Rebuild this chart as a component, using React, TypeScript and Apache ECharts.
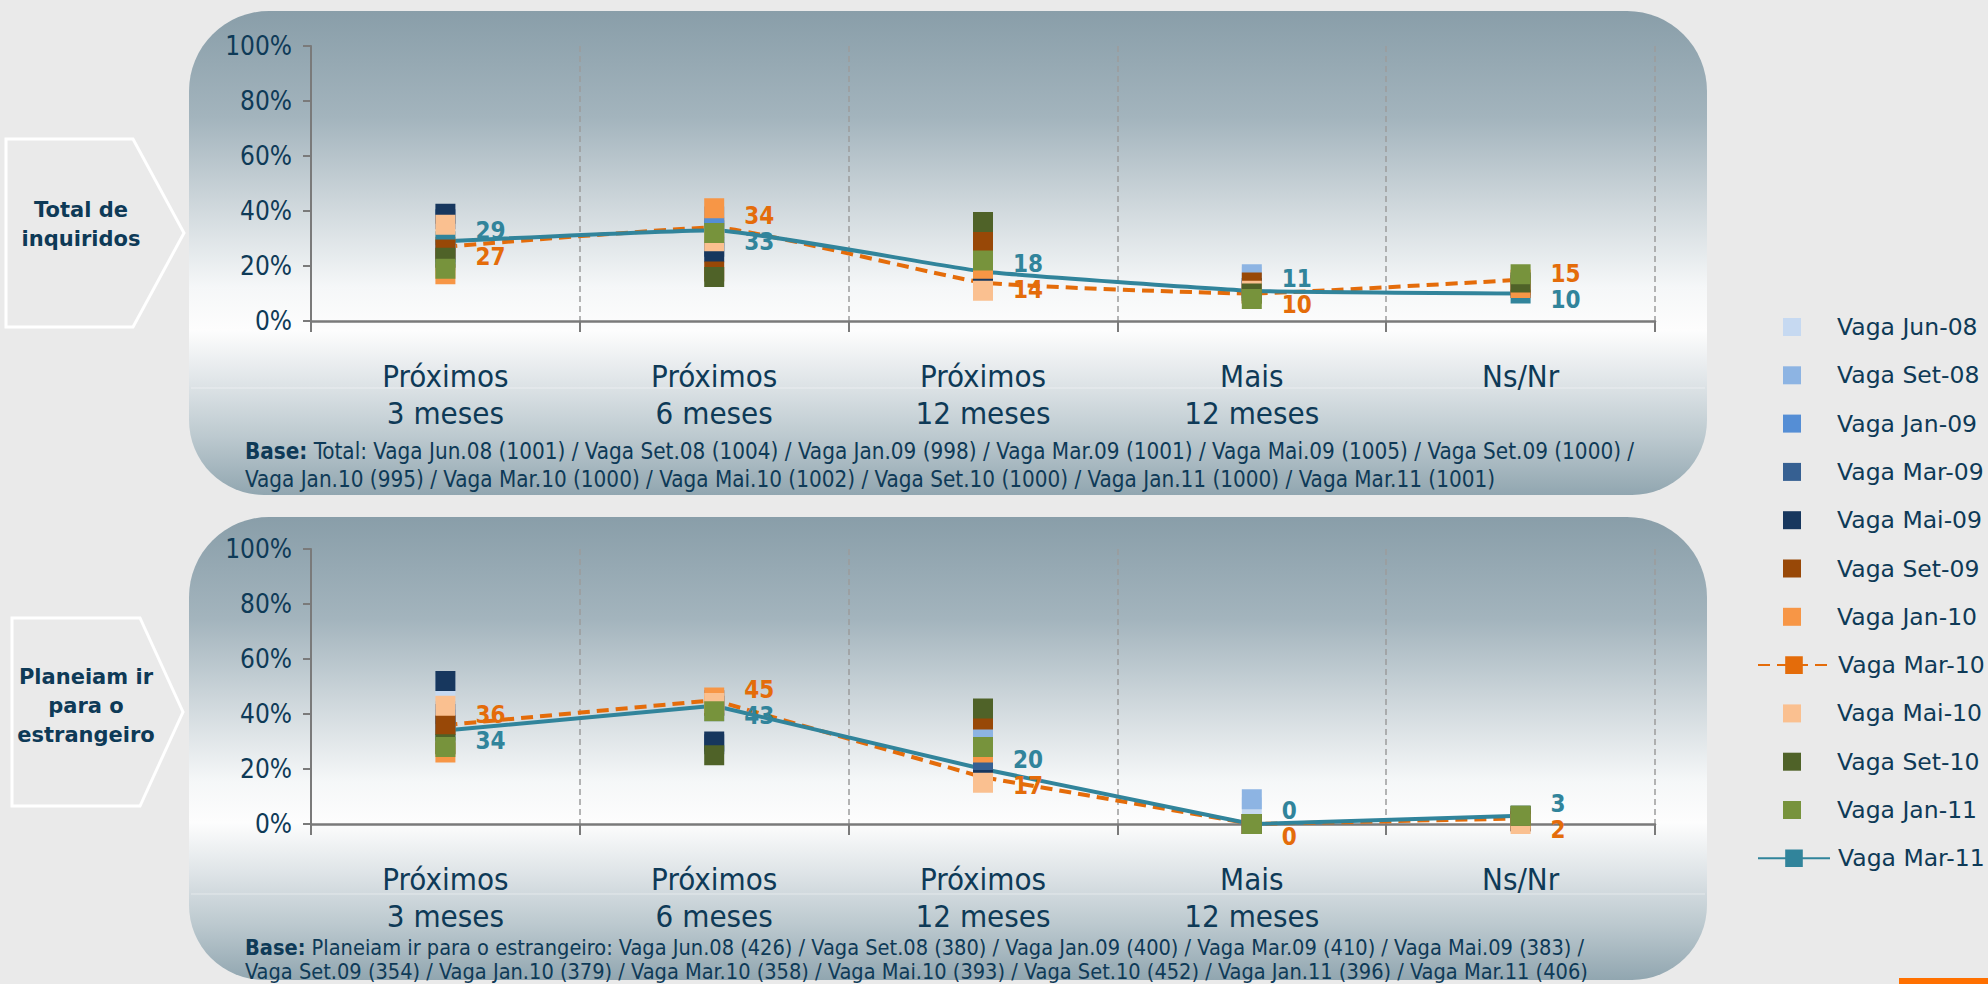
import React, { useEffect, useRef } from 'react';
import * as echarts from 'echarts';

// ---------- data ----------
const categories = ['Próximos\n3 meses', 'Próximos\n6 meses', 'Próximos\n12 meses', 'Mais\n12 meses', 'Ns/Nr'];

const waveNames = [
  'Vaga Jun-08', 'Vaga Set-08', 'Vaga Jan-09', 'Vaga Mar-09', 'Vaga Mai-09', 'Vaga Set-09',
  'Vaga Jan-10', 'Vaga Mar-10', 'Vaga Mai-10', 'Vaga Set-10', 'Vaga Jan-11', 'Vaga Mar-11',
];
const waveColors = [
  '#C6D9F1', '#8DB4E3', '#558ED5', '#366092', '#17375E', '#984807',
  '#F79646', '#E46C0A', '#FAC090', '#4F6228', '#77933C', '#31849B',
];
const lineWaves = ['Vaga Mar-10', 'Vaga Mar-11'];

// Total de inquiridos (%)
const totalJun08 = [24, 30, 25, 16, 12];
const totalSet08 = [22, 31, 27, 17, 13];
const totalJan09 = [25, 38, 24, 12, 14];
const totalMar09 = [37, 27, 23, 12, 13];
const totalMai09 = [39, 25, 15, 11, 12];
const totalSet09 = [26, 18, 29, 14, 13];
const totalJan10 = [17, 41, 19, 10, 12];
const totalMar10 = [27, 34, 14, 10, 15];
const totalMai10 = [35, 29, 11, 11, 15];
const totalSet10 = [23, 16, 36, 10, 14];
const totalJan11 = [19, 32, 22, 8, 17];
const totalMar11 = [29, 33, 18, 11, 10];

// Planeiam ir para o estrangeiro (%)
const planJun08 = [50, 44, 40, 6, 1];
const planSet08 = [41, 41, 35, 9, 2];
const planJan09 = [38, 45, 27, 0, 1];
const planMar09 = [40, 29, 20, 0, 2];
const planMai09 = [52, 30, 16, 0, 1];
const planSet09 = [36, 43, 38, 0, 1];
const planJan10 = [26, 46, 26, 0, 2];
const planMar10 = [36, 45, 17, 0, 2];
const planMai10 = [43, 44, 15, 0, 0];
const planSet10 = [29, 25, 42, 0, 3];
const planJan11 = [28, 41, 28, 0, 3];
const planMar11 = [34, 43, 20, 0, 3];

const totalValues = [totalJun08, totalSet08, totalJan09, totalMar09, totalMai09, totalSet09, totalJan10, totalMar10, totalMai10, totalSet10, totalJan11, totalMar11];
const planValues = [planJun08, planSet08, planJan09, planMar09, planMai09, planSet09, planJan10, planMar10, planMai10, planSet10, planJan11, planMar11];

const panelTitles = ['Total de\ninquiridos', 'Planeiam ir\npara o\nestrangeiro'];
const baseNotes = [
  [
    'Total: Vaga Jun.08 (1001) / Vaga Set.08 (1004) / Vaga Jan.09 (998) / Vaga Mar.09 (1001) / Vaga Mai.09 (1005) / Vaga Set.09 (1000) /',
    'Vaga Jan.10 (995) / Vaga Mar.10 (1000) / Vaga Mai.10 (1002) / Vaga Set.10 (1000) / Vaga Jan.11 (1000) / Vaga Mar.11 (1001)',
  ],
  [
    'Planeiam ir para o estrangeiro: Vaga Jun.08 (426) / Vaga Set.08 (380) / Vaga Jan.09 (400) / Vaga Mar.09 (410) / Vaga Mai.09 (383) /',
    'Vaga Set.09 (354) / Vaga Jan.10 (379) / Vaga Mar.10 (358) / Vaga Mai.10 (393) / Vaga Set.10 (452) / Vaga Jan.11 (396) / Vaga Mar.11 (406)',
  ],
];

// ---------- layout / style ----------
const W = 1988;
const H = 984;
const TEXT = '#0E3A57';
const COND = '"DejaVu Sans Condensed", "DejaVu Sans", sans-serif';
const SANS = '"DejaVu Sans", Verdana, sans-serif';
const GRID_LEFT = 311;
const GRID_W = 1344;
const GRID_H = 275;
const GRID_TOPS = [46, 549];
const PANELS = [
  { y: 11, h: 484 },
  { y: 517, h: 463 },
];
const PANEL_X = 189;
const PANEL_W = 1518;
const BASE_LAYOUT = [
  { y: 437, lineHeight: 28, fontSize: 22.3 },
  { y: 935, lineHeight: 24, fontSize: 21.6 },
];

function buildOption() {
  const k = GRID_H / 100;

  const grid = GRID_TOPS.map((t) => ({ left: GRID_LEFT, top: t, width: GRID_W, height: GRID_H }));

  const xAxis = GRID_TOPS.map((_, g) => ({
    type: 'category',
    gridIndex: g,
    data: categories,
    boundaryGap: true,
    axisLine: { show: true, lineStyle: { color: '#7A7A7A', width: 2.5 } },
    axisTick: { show: true, length: 11, interval: 0, lineStyle: { color: '#7A7A7A', width: 2 } },
    axisLabel: {
      interval: 0,
      margin: 36,
      color: TEXT,
      fontFamily: COND,
      fontSize: 31,
      lineHeight: 37,
    },
    splitLine: { show: true, interval: 0, lineStyle: { color: '#9C9C9C', width: 1.5, type: [6, 4] } },
  }));

  const yAxis = GRID_TOPS.map((_, g) => ({
    type: 'value',
    gridIndex: g,
    min: 0,
    max: 100,
    interval: 20,
    axisLine: { show: true, lineStyle: { color: '#7A7A7A', width: 2 } },
    axisTick: { show: true, length: 8, lineStyle: { color: '#7A7A7A', width: 2 } },
    axisLabel: { formatter: '{value}%', margin: 19, color: TEXT, fontFamily: COND, fontSize: 26 },
    splitLine: { show: false },
  }));

  const series: any[] = [];
  [totalValues, planValues].forEach((values, g) => {
    waveNames.forEach((name, i) => {
      const color = waveColors[i];
      if (!lineWaves.includes(name)) {
        series.push({
          type: 'scatter',
          name,
          xAxisIndex: g,
          yAxisIndex: g,
          data: values[i],
          symbol: 'rect',
          symbolSize: 20,
          itemStyle: { color, opacity: 1 },
          clip: false,
          z: 3,
        });
        return;
      }
      const isMar11 = name === 'Vaga Mar-11';
      const other = values[waveNames.indexOf(isMar11 ? 'Vaga Mar-10' : 'Vaga Mar-11')];
      const data = values[i].map((v, j) => {
        const o = other[j];
        const mean = (v + o) / 2;
        const upper = isMar11 ? v >= o : v > o;
        const dy = (v - mean) * k + (upper ? -13 : 13);
        return { value: v, label: { offset: [0, dy] } };
      });
      series.push({
        type: 'line',
        name,
        xAxisIndex: g,
        yAxisIndex: g,
        data,
        symbol: 'rect',
        symbolSize: 20,
        showSymbol: true,
        smooth: g === 0 ? 0.12 : false,
        clip: false,
        lineStyle: { color, width: 4, type: isMar11 ? 'solid' : [12, 7] },
        itemStyle: { color },
        label: {
          show: true,
          position: 'right',
          distance: 20,
          color,
          fontFamily: COND,
          fontWeight: 'bold',
          fontSize: 24,
        },
        z: 2,
      });
    });
  });

  const legend = waveNames.map((name, i) => {
    const cy = 327 + i * 48.3;
    const isLine = lineWaves.includes(name);
    return {
      data: [name],
      orient: 'vertical',
      left: isLine ? 1757 : 1783,
      top: cy - 12,
      padding: 0,
      itemWidth: isLine ? 72 : 18,
      itemHeight: isLine ? 22 : 18,
      icon: isLine ? undefined : 'rect',
      textStyle: {
        color: TEXT,
        fontFamily: SANS,
        fontSize: 23.5,
        lineHeight: 24,
        padding: [0, 0, 0, isLine ? 3 : 31],
      },
    };
  });

  const graphic: any[] = [];
  PANELS.forEach((p, g) => {
    graphic.push({
      type: 'rect',
      z: -10,
      shape: { x: PANEL_X, y: p.y, width: PANEL_W, height: p.h, r: [80, 80, 75, 75] },
      style: {
        fill: new echarts.graphic.LinearGradient(0, 0, 0, 1, [
          { offset: 0, color: '#899EA9' },
          { offset: 0.22, color: '#A3B4BD' },
          { offset: 0.42, color: '#D3DBDF' },
          { offset: 0.57, color: '#F5F7F8' },
          { offset: 0.66, color: '#FDFDFD' },
          { offset: 0.76, color: '#E1E6E9' },
          { offset: 0.88, color: '#BCC9CF' },
          { offset: 1, color: '#91A6B0' },
        ]),
      },
    });
    graphic.push({
      type: 'line',
      z: -9,
      shape: { x1: PANEL_X + 2, y1: p.y + 377, x2: PANEL_X + PANEL_W - 2, y2: p.y + 377 },
      style: { stroke: '#FFFFFF', lineWidth: 1.5, opacity: 0.3 },
    });
    // base note
    const bl = BASE_LAYOUT[g];
    graphic.push({
      type: 'text',
      x: 245,
      y: bl.y,
      style: {
        text: '{b|Base:} ' + baseNotes[g][0] + '\n' + baseNotes[g][1],
        fill: TEXT,
        fontFamily: COND,
        fontSize: bl.fontSize,
        lineHeight: bl.lineHeight,
        textVerticalAlign: 'top',
        rich: {
          b: { fontWeight: 'bold', fontFamily: COND, fontSize: bl.fontSize, lineHeight: bl.lineHeight, fill: TEXT },
        },
      },
    });
  });

  // left arrow boxes
  const boxes = [
    { x0: 6, x1: 133, tip: 184, y0: 139, y1: 327, tx: 81, ty: 224 },
    { x0: 12, x1: 140, tip: 183, y0: 618, y1: 806, tx: 86, ty: 706 },
  ];
  boxes.forEach((b, g) => {
    const mid = (b.y0 + b.y1) / 2;
    graphic.push({
      type: 'polygon',
      shape: { points: [[b.x0, b.y0], [b.x1, b.y0], [b.tip, mid], [b.x1, b.y1], [b.x0, b.y1]] },
      style: { fill: '#EAEAEA', stroke: '#FFFFFF', lineWidth: 3 },
    });
    graphic.push({
      type: 'text',
      x: b.tx,
      y: b.ty,
      style: {
        text: panelTitles[g],
        fill: TEXT,
        fontFamily: SANS,
        fontWeight: 'bold',
        fontSize: 21,
        lineHeight: 29,
        textAlign: 'center',
        textVerticalAlign: 'middle',
      },
    });
  });

  graphic.push({
    type: 'rect',
    shape: { x: 1899, y: 978, width: 89, height: 6 },
    style: { fill: '#FF7000' },
  });

  return {
    animation: false,
    backgroundColor: '#EAEAEA',
    grid,
    xAxis,
    yAxis,
    series,
    legend,
    graphic,
  };
}

export default function App() {
  const ref = useRef<HTMLDivElement>(null);
  useEffect(() => {
    document.body.style.margin = '0';
    if (!ref.current) return;
    const chart = echarts.init(ref.current, undefined, { renderer: 'svg' });
    chart.setOption(buildOption() as any);
    return () => chart.dispose();
  }, []);
  return <div ref={ref} style={{ width: W, height: H }} />;
}
